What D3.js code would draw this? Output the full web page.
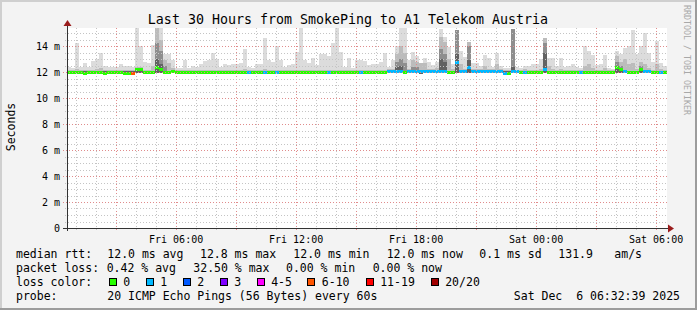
<!DOCTYPE html>
<html>
<head>
<meta charset="utf-8">
<script src="https://cdn.jsdelivr.net/npm/d3@7"></script>
<style>
  body { margin: 0; background: #f3f3f3; }
  svg text { font-family: "DejaVu Sans Mono", monospace; white-space: pre; }
</style>
</head>
<body>
<div id="chart"></div>
<script>
// smokeping data, one column every 12 minutes (150 columns over 30 hours), values in ms
const topMs = [
  12.4,12.3,14.2,12.4,12.7,12.4,12.85,13.0,13.5,12.5,
  12.4,12.4,12.35,12.6,12.5,12.45,12.35,15.38,14.0,12.75,
  12.7,14.05,15.38,15.38,13.4,13.35,12.9,12.3,12.3,12.9,
  12.3,12.5,12.4,12.65,12.85,12.9,13.5,13.0,12.4,12.65,
  12.55,12.65,12.6,12.7,13.8,12.4,12.3,12.65,12.6,14.65,
  12.9,12.8,14.0,12.9,12.4,12.55,12.65,13.55,15.38,12.9,
  12.7,13.05,12.55,13.4,13.35,13.2,14.2,15.38,13.55,12.4,
  13.05,12.3,12.95,12.9,12.85,12.55,12.65,12.6,12.8,13.5,
  12.4,12.9,14.0,15.38,15.38,12.9,13.55,13.2,12.65,13.05,
  12.8,12.55,12.8,15.3,14.7,13.9,12.6,15.2,13.6,13.15,
  14.3,12.7,12.7,12.5,13.3,13.05,12.4,13.5,12.5,12.3,
  12.3,15.3,12.4,12.3,12.5,12.5,12.65,12.65,13.0,14.6,
  13.1,13.1,12.5,13.1,12.4,12.5,12.65,12.4,12.3,14.0,
  13.6,13.3,12.55,12.65,13.3,12.3,12.25,13.6,13.4,13.85,
  14.0,15.2,13.4,14.0,15.0,13.5,12.8,14.4,12.7,12.5
];
const midMs = [
  12.15,12.15,12.2,12.15,12.15,12.15,12.15,12.2,12.3,12.15,
  12.15,12.15,12.15,12.15,12.15,12.15,12.15,12.4,12.35,12.15,
  12.15,12.5,15.38,14.5,12.9,12.7,12.3,12.15,12.15,12.15,
  12.15,12.15,12.15,12.15,12.15,12.15,12.15,12.15,12.15,12.15,
  12.15,12.15,12.15,12.15,12.2,12.15,12.15,12.15,12.15,12.2,
  12.15,12.15,12.15,12.15,12.15,12.15,12.15,12.15,12.15,12.15,
  12.15,12.15,12.15,12.15,12.15,12.15,12.15,12.15,12.15,12.15,
  12.15,12.15,12.15,12.15,12.15,12.15,12.15,12.15,12.15,12.15,
  12.2,12.2,13.4,14.0,13.5,12.2,12.9,12.8,12.7,12.7,
  12.2,12.2,12.3,14.7,14.3,13.0,12.2,15.2,12.6,12.2,
  14.3,12.2,12.2,12.2,12.5,12.2,12.2,12.6,12.2,12.15,
  12.15,15.3,12.15,12.15,12.2,12.15,12.15,12.15,12.2,14.6,
  12.5,12.2,12.15,12.2,12.15,12.15,12.15,12.15,12.15,12.5,
  12.6,12.3,12.15,12.15,12.3,12.15,12.15,13.2,12.8,13.0,
  12.6,12.7,12.2,12.8,12.6,12.3,12.15,12.6,12.2,12.15
];
const darkMs = [
  12.1,12.1,12.1,12.1,12.1,12.1,12.1,12.1,12.1,12.1,
  12.1,12.1,12.1,12.1,12.1,12.1,12.1,12.2,12.1,12.1,
  12.1,12.1,14.2,13.6,12.5,12.1,12.1,12.1,12.1,12.1,
  12.1,12.1,12.1,12.1,12.1,12.1,12.1,12.1,12.1,12.1,
  12.1,12.1,12.1,12.1,12.1,12.1,12.1,12.1,12.1,12.1,
  12.1,12.1,12.1,12.1,12.1,12.1,12.1,12.1,12.1,12.1,
  12.1,12.1,12.1,12.1,12.1,12.1,12.1,12.1,12.1,12.1,
  12.1,12.1,12.1,12.1,12.1,12.1,12.1,12.1,12.1,12.1,
  12.1,12.1,12.8,13.0,12.7,12.1,12.4,12.4,12.1,12.1,
  12.1,12.1,12.1,13.8,13.4,12.1,12.1,15.2,12.1,12.1,
  14.0,12.1,12.1,12.1,12.1,12.1,12.1,12.1,12.1,12.1,
  12.1,15.3,12.1,12.1,12.1,12.1,12.1,12.1,12.1,14.2,
  12.1,12.1,12.1,12.1,12.1,12.1,12.1,12.1,12.1,12.1,
  12.1,12.1,12.1,12.1,12.1,12.1,12.1,12.8,12.5,12.1,
  12.1,12.1,12.1,12.5,12.1,12.1,12.1,12.1,12.1,12.1
];
const coreMs = [
  12.05,12.05,12.05,12.05,12.05,12.05,12.05,12.05,12.05,12.05,
  12.05,12.05,12.05,12.05,12.05,12.05,12.05,12.05,12.05,12.05,
  12.05,12.05,13.0,12.6,12.05,12.05,12.05,12.05,12.05,12.05,
  12.05,12.05,12.05,12.05,12.05,12.05,12.05,12.05,12.05,12.05,
  12.05,12.05,12.05,12.05,12.05,12.05,12.05,12.05,12.05,12.05,
  12.05,12.05,12.05,12.05,12.05,12.05,12.05,12.05,12.05,12.05,
  12.05,12.05,12.05,12.05,12.05,12.05,12.05,12.05,12.05,12.05,
  12.05,12.05,12.05,12.05,12.05,12.05,12.05,12.05,12.05,12.05,
  12.05,12.05,12.4,12.5,12.05,12.05,12.05,12.05,12.05,12.05,
  12.05,12.05,12.05,13.0,12.8,12.05,12.05,13.4,12.05,12.05,
  12.9,12.05,12.05,12.05,12.05,12.05,12.05,12.05,12.05,12.05,
  12.05,12.4,12.05,12.05,12.05,12.05,12.05,12.05,12.05,13.5,
  12.05,12.05,12.05,12.05,12.05,12.05,12.05,12.05,12.05,12.05,
  12.05,12.05,12.05,12.05,12.05,12.05,12.05,12.5,12.05,12.05,
  12.05,12.05,12.05,12.05,12.05,12.05,12.05,12.05,12.05,12.05
];
const minMs = [
  11.9,11.9,11.9,11.9,11.9,11.9,11.9,11.9,11.9,11.85,
  11.9,11.9,11.9,11.9,11.85,11.85,11.85,11.9,11.9,11.9,
  11.9,11.9,11.9,11.9,11.9,11.9,11.9,11.9,11.9,11.9,
  11.9,11.9,11.9,11.9,11.9,11.9,11.9,11.9,11.9,11.9,
  11.9,11.9,11.9,11.9,11.9,11.9,11.9,11.9,11.9,11.9,
  11.9,11.9,11.9,11.9,11.9,11.9,11.9,11.9,11.9,11.9,
  11.9,11.9,11.9,11.9,11.9,11.9,11.9,11.9,11.9,11.9,
  11.9,11.9,11.9,11.9,11.9,11.9,11.9,11.9,11.9,11.9,
  11.9,11.9,11.9,11.9,11.9,11.9,11.9,11.9,11.85,11.9,
  11.9,11.9,11.9,11.9,11.9,11.9,11.9,11.9,11.9,11.9,
  11.9,11.9,11.9,11.9,11.9,11.9,11.9,11.9,11.9,11.85,
  11.85,11.9,11.9,11.9,11.9,11.9,11.9,11.9,11.9,11.9,
  11.9,11.9,11.9,11.9,11.9,11.9,11.9,11.9,11.9,11.9,
  11.9,11.9,11.9,11.9,11.9,11.9,11.9,11.9,11.9,11.9,
  11.9,11.9,11.9,11.9,11.9,11.9,11.9,11.9,11.9,11.9
];
const medianMs = [
  12,12,12,12,11.95,12,12,12,12,11.95,
  12,12,12,12,11.95,11.95,11.95,12.2,12.2,12,
  12,12,12.35,12.2,12,12,12.05,12,12,12,
  12,12,12,12,12,12,12,12,12,12,
  12,12,12,12,12,12,12,12,12,12,
  12,12,12,12,12,12,12,12,12,12,
  12,12,12,12,12,12,12,12,12,12,
  12,12,12,12,12,12,12,12,12,12,
  12.05,12.05,12.1,12.1,12,12.1,12.1,12.1,12.1,12.1,
  12.1,12.1,12.1,12.1,12.1,12,12,12.8,12.1,12.1,
  12.35,12.1,12.1,12.1,12.1,12.1,12.1,12.1,12.05,11.95,
  11.95,12.05,12.05,12,12,12,12,12,12,12.2,
  12,12,12,12,12,12,12,12,12,12,
  12,12,12,12,12,12,12,12.35,12.2,12.05,
  12,12,12,12.2,12.1,12.1,12,12,12,12
];
// lost pings out of 20 for each column
const lossCount = [
  0,0,0,0,0,0,0,0,0,0,
  0,0,0,0,0,0,7,0,0,0,
  0,0,0,0,0,0,0,0,0,0,
  0,0,0,0,0,0,0,0,0,0,
  0,0,0,0,0,1,0,0,0,1,
  0,0,1,0,0,0,0,0,0,0,
  0,0,0,0,0,1,0,0,0,0,
  0,0,0,1,0,0,0,0,0,0,
  1,1,1,1,0,1,1,1,1,1,
  1,1,1,1,1,0,0,1,1,1,
  1,1,1,1,1,1,1,1,1,1,
  0,1,1,0,1,0,0,0,0,1,
  0,0,0,0,0,0,0,0,1,0,
  0,0,0,0,0,0,0,0,0,1,
  0,0,0,0,1,1,0,0,1,0
];

const lossLabels = ["0", "1", "2", "3", "4-5", "6-10", "11-19", "20/20"];
const lossColors = ["#26ff00", "#00b8ff", "#0059ff", "#7e00ff", "#ff00ff", "#ff5500", "#ff0000", "#a10000"];
const lossLimits = [0, 1, 2, 3, 5, 10, 19, 20];

const statLines = [
  ["median rtt:", "12.0 ms avg", "12.8 ms max", "12.0 ms min", "12.0 ms now", "0.1 ms sd", "131.9", "am/s"],
  ["packet loss:", "0.42 % avg", "32.50 % max", "0.00 % min", "0.00 % now"]
];
const statX = [
  [16, 107.3, 200, 293.3, 386.7, 479.3, 558.3, 614.3],
  [16, 106.7, 193.3, 286, 372.7]
];
const swatchX = [108.7, 145.7, 182.7, 219.7, 256.7, 307.3, 365.7, 430.7];

const startTime = new Date(Date.UTC(2025, 11, 5, 0, 32, 39));
const endTime = new Date(Date.UTC(2025, 11, 6, 6, 32, 39));

const width = 697, height = 310;
const svg = d3.select("#chart").append("svg")
    .attr("width", width)
    .attr("height", height);

// background + frame
svg.append("rect").attr("width", width).attr("height", height).attr("fill", "#f3f3f3");
svg.append("rect").attr("x", 0).attr("y", 0).attr("width", width).attr("height", 2).attr("fill", "#cfcfcf");
svg.append("rect").attr("x", 0).attr("y", 0).attr("width", 2).attr("height", height).attr("fill", "#cfcfcf");
svg.append("rect").attr("x", 0).attr("y", height - 2).attr("width", width).attr("height", 2).attr("fill", "#9c9c9c");
svg.append("rect").attr("x", width - 2).attr("y", 0).attr("width", 2).attr("height", height).attr("fill", "#9c9c9c");

const x = d3.scaleUtc().domain([startTime, endTime]).range([67, 667]);
const y = d3.scaleLinear().domain([0, 200 / 13]).range([228, 28]);

svg.append("rect")
    .attr("x", x.range()[0]).attr("y", y.range()[1])
    .attr("width", x.range()[1] - x.range()[0])
    .attr("height", y.range()[0] - y.range()[1])
    .attr("fill", "#ffffff");

const data = topMs.map(function(d, i) {
    return {
        t0: d3.utcMinute.offset(startTime, 12 * i),
        t1: d3.utcMinute.offset(startTime, 12 * (i + 1)),
        top: d, mid: midMs[i], dark: darkMs[i], core: coreMs[i],
        low: minMs[i], median: medianMs[i], loss: lossCount[i]
    };
});

// smoke layers
const layers = [
    { key: "top", color: "#dcdcdc" },
    { key: "mid", color: "#bcbcbc" },
    { key: "dark", color: "#8e8e8e" },
    { key: "core", color: "#626262" }
];
layers.forEach(function(layer) {
    svg.append("g")
      .attr("shape-rendering", "crispEdges")
      .selectAll("rect")
      .data(data)
      .join("rect")
      .attr("x", d => x(d.t0))
      .attr("width", d => x(d.t1) - x(d.t0))
      .attr("y", d => y(d[layer.key]))
      .attr("height", d => Math.max(0, y(d.low) - y(d[layer.key])))
      .attr("fill", layer.color);
});

// median line coloured by loss
function lossColor(n) {
    for (let k = 0; k < lossLimits.length; k++) {
        if (n <= lossLimits[k]) return lossColors[k];
    }
    return lossColors[lossColors.length - 1];
}
svg.append("g")
  .attr("shape-rendering", "crispEdges")
  .selectAll("rect")
  .data(data)
  .join("rect")
  .attr("x", d => x(d.t0))
  .attr("width", d => x(d.t1) - x(d.t0))
  .attr("y", d => Math.round(y(d.median)) - 1.5)
  .attr("height", 3)
  .attr("fill", d => lossColor(d.loss));

// grid
const grid = svg.append("g").attr("shape-rendering", "crispEdges");
const hours = d3.utcHour.range(startTime, endTime);
grid.selectAll("line.vx")
  .data(hours)
  .join("line")
  .attr("class", "vx")
  .attr("x1", d => Math.round(x(d)) + 0.5)
  .attr("x2", d => Math.round(x(d)) + 0.5)
  .attr("y1", y.range()[1])
  .attr("y2", y.range()[0] + 3)
  .attr("stroke", d => d.getUTCHours() % 3 === 0 ? "#e08c8c" : "#c4c4c4")
  .attr("stroke-dasharray", "1,2");

const yMinor = d3.range(0, 15.5, 0.5);
grid.selectAll("line.hy")
  .data(yMinor)
  .join("line")
  .attr("class", "hy")
  .attr("x1", d => d % 2 === 0 ? 63 : 65)
  .attr("x2", x.range()[1])
  .attr("y1", d => Math.round(y(d)) + 0.5)
  .attr("y2", d => Math.round(y(d)) + 0.5)
  .attr("stroke", d => d % 2 === 0 ? "#e08c8c" : "#c4c4c4")
  .attr("stroke-dasharray", "1,2");

// axes
svg.append("line")
  .attr("x1", 67.5).attr("x2", 67.5).attr("y1", 231).attr("y2", 24)
  .attr("stroke", "#333");
svg.append("line")
  .attr("x1", 63).attr("x2", 670).attr("y1", 228.5).attr("y2", 228.5)
  .attr("stroke", "#333");
svg.append("path").attr("d", "M63.5,26L71.5,26L67.5,20Z").attr("fill", "#9a1c1c");
svg.append("path").attr("d", "M668,224.5L668,232.5L674,228.5Z").attr("fill", "#9a1c1c");

// y tick labels
svg.append("g")
  .selectAll("text")
  .data(d3.range(0, 15, 2))
  .join("text")
  .attr("x", 60)
  .attr("y", d => y(d) + 3.5)
  .attr("text-anchor", "end")
  .attr("font-size", "10px")
  .text(d => d === 0 ? "0" : d + " m");

// x tick labels
const fmt = d3.utcFormat("%a %H:%M");
svg.append("g")
  .selectAll("text")
  .data(d3.utcHour.every(6).range(startTime, endTime))
  .join("text")
  .attr("x", d => x(d))
  .attr("y", 243)
  .attr("text-anchor", "middle")
  .attr("font-size", "10px")
  .text(d => fmt(d));

// title and side labels
svg.append("text")
  .attr("x", 348).attr("y", 24)
  .attr("text-anchor", "middle")
  .attr("font-size", "13.3px")
  .text("Last 30 Hours from SmokePing to A1 Telekom Austria");

svg.append("text")
  .attr("transform", "translate(15,127) rotate(-90)")
  .attr("text-anchor", "middle")
  .attr("font-size", "11.5px")
  .text("Seconds");

svg.append("text")
  .attr("transform", "translate(684,5) rotate(90)")
  .attr("font-size", "8.3px")
  .attr("fill", "#a8a8a8")
  .text("RRDTOOL / TOBI OETIKER");

// legend
const legend = svg.append("g").attr("font-size", "11.5px");
statLines.forEach(function(line, row) {
    legend.append("g")
      .selectAll("text")
      .data(line)
      .join("text")
      .attr("x", (d, i) => statX[row][i])
      .attr("y", 258 + row * 14)
      .text(d => d);
});

legend.append("text").attr("x", 16).attr("y", 286).text("loss color:");
legend.append("g")
  .attr("shape-rendering", "crispEdges")
  .selectAll("rect")
  .data(lossColors)
  .join("rect")
  .attr("x", (d, i) => Math.round(swatchX[i]) + 0.5)
  .attr("y", 278.5)
  .attr("width", 7)
  .attr("height", 7)
  .attr("fill", d => d)
  .attr("stroke", "#000");
legend.append("g")
  .selectAll("text")
  .data(lossLabels)
  .join("text")
  .attr("x", (d, i) => swatchX[i] + 14.5)
  .attr("y", 286)
  .text(d => d);

legend.append("text").attr("x", 16).attr("y", 300).text("probe:");
legend.append("text").attr("x", 107.3).attr("y", 300).text("20 ICMP Echo Pings (56 Bytes) every 60s");
legend.append("text").attr("x", 680).attr("y", 300).attr("text-anchor", "end").text("Sat Dec  6 06:32:39 2025");
</script>
</body>
</html>
